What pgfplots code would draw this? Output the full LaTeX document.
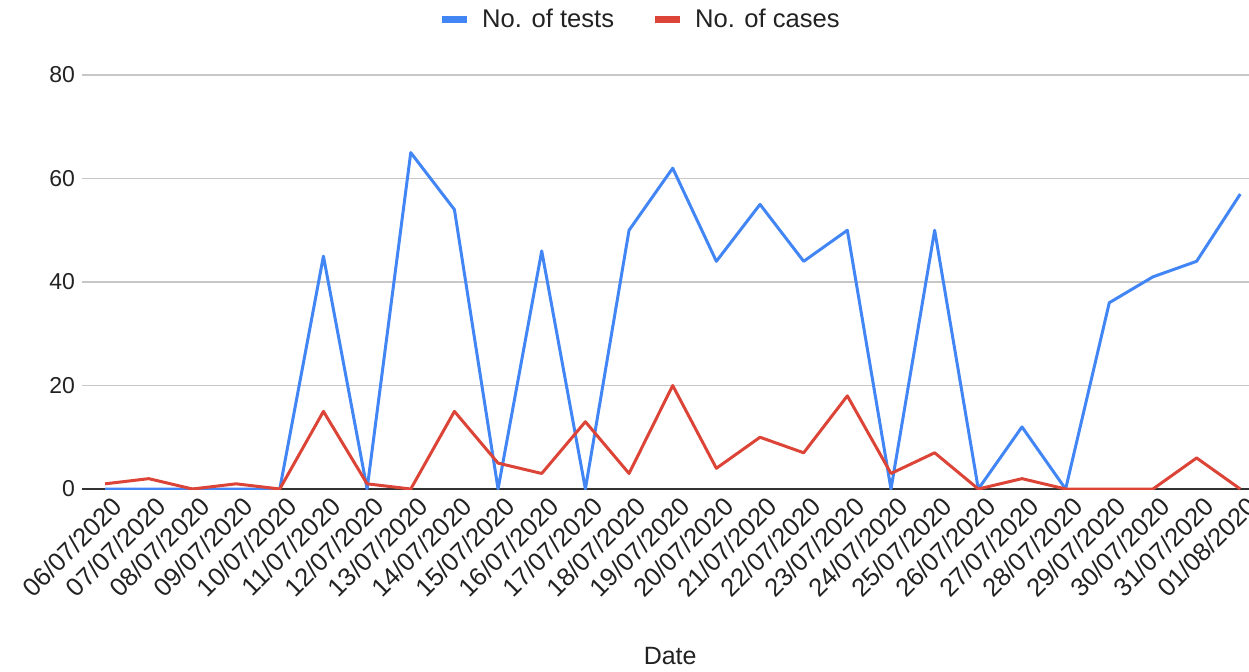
\documentclass[border=0pt]{standalone}
\usepackage{pgfplots}
\pgfplotsset{compat=1.18}
\usepackage{pgfplotstable}
\usepackage{fontspec}
\setmainfont{Liberation Sans}
\definecolor{gblue}{HTML}{4285F4}
\definecolor{gred}{HTML}{DB4437}
\definecolor{txt}{HTML}{222222}
\pgfplotstableread{
x tests cases
0 0 1
1 0 2
2 0 0
3 0 1
4 0 0
5 45 15
6 0 1
7 65 0
8 54 15
9 0 5
10 46 3
11 0 13
12 50 3
13 62 20
14 44 4
15 55 10
16 44 7
17 50 18
18 0 3
19 50 7
20 0 0
21 12 2
22 0 0
23 36 0
24 41 0
25 44 6
26 57 0
}\datatable
\begin{document}
\begin{tikzpicture}
\useasboundingbox (0,0) rectangle (624.5pt,335.5pt);
\begin{axis}[
  at={(41pt,91pt)}, anchor=south west,
  scale only axis, width=583.5pt, height=207pt,
  xmin=-0.53, xmax=26.2, ymin=0, ymax=80,
  axis line style={draw=none},
  major tick length=0pt,
  ytick={20,40,60,80},
  extra y ticks={0},
  extra y tick style={grid style={draw=black!80, line width=0.8pt}},
  ymajorgrids,
  grid style={draw=black!22, line width=0.6pt},
  xtick={0,...,26},
  xticklabels={06/07/2020,07/07/2020,08/07/2020,09/07/2020,10/07/2020,11/07/2020,12/07/2020,13/07/2020,14/07/2020,15/07/2020,16/07/2020,17/07/2020,18/07/2020,19/07/2020,20/07/2020,21/07/2020,22/07/2020,23/07/2020,24/07/2020,25/07/2020,26/07/2020,27/07/2020,28/07/2020,29/07/2020,30/07/2020,31/07/2020,01/08/2020},
  xticklabel style={rotate=45, anchor=north east, font=\fontsize{12.8}{13}\selectfont, text=txt, inner sep=1pt, yshift=-3pt, xshift=1pt},
  yticklabel style={font=\fontsize{11.5}{12}\selectfont, text=txt},
  /pgf/number format/assume math mode=true,
  xlabel={Date},
  xlabel style={at={(axis description cs:0.504,-0.403)}, anchor=center, font=\fontsize{12.5}{13}\selectfont, text=txt},
  legend columns=2,
  legend style={at={(0.479,1.133)}, anchor=center, draw=none, fill=none,
    font=\fontsize{12.8}{13}\selectfont, text=txt,
    /tikz/every odd column/.append style={column sep=4pt},
    /tikz/every even column/.append style={column sep=16.5pt}},
  legend image code/.code={\draw[line width=3.5pt] (0pt,0pt) -- (12.5pt,0pt);},
]
\addplot[gblue, line width=1.5pt, line join=round] table[x=x, y=tests] {\datatable};
\addlegendentry{No. of tests}
\addplot[gred, line width=1.5pt, line join=round] table[x=x, y=cases] {\datatable};
\addlegendentry{No. of cases}
\end{axis}
\end{tikzpicture}
\end{document}
